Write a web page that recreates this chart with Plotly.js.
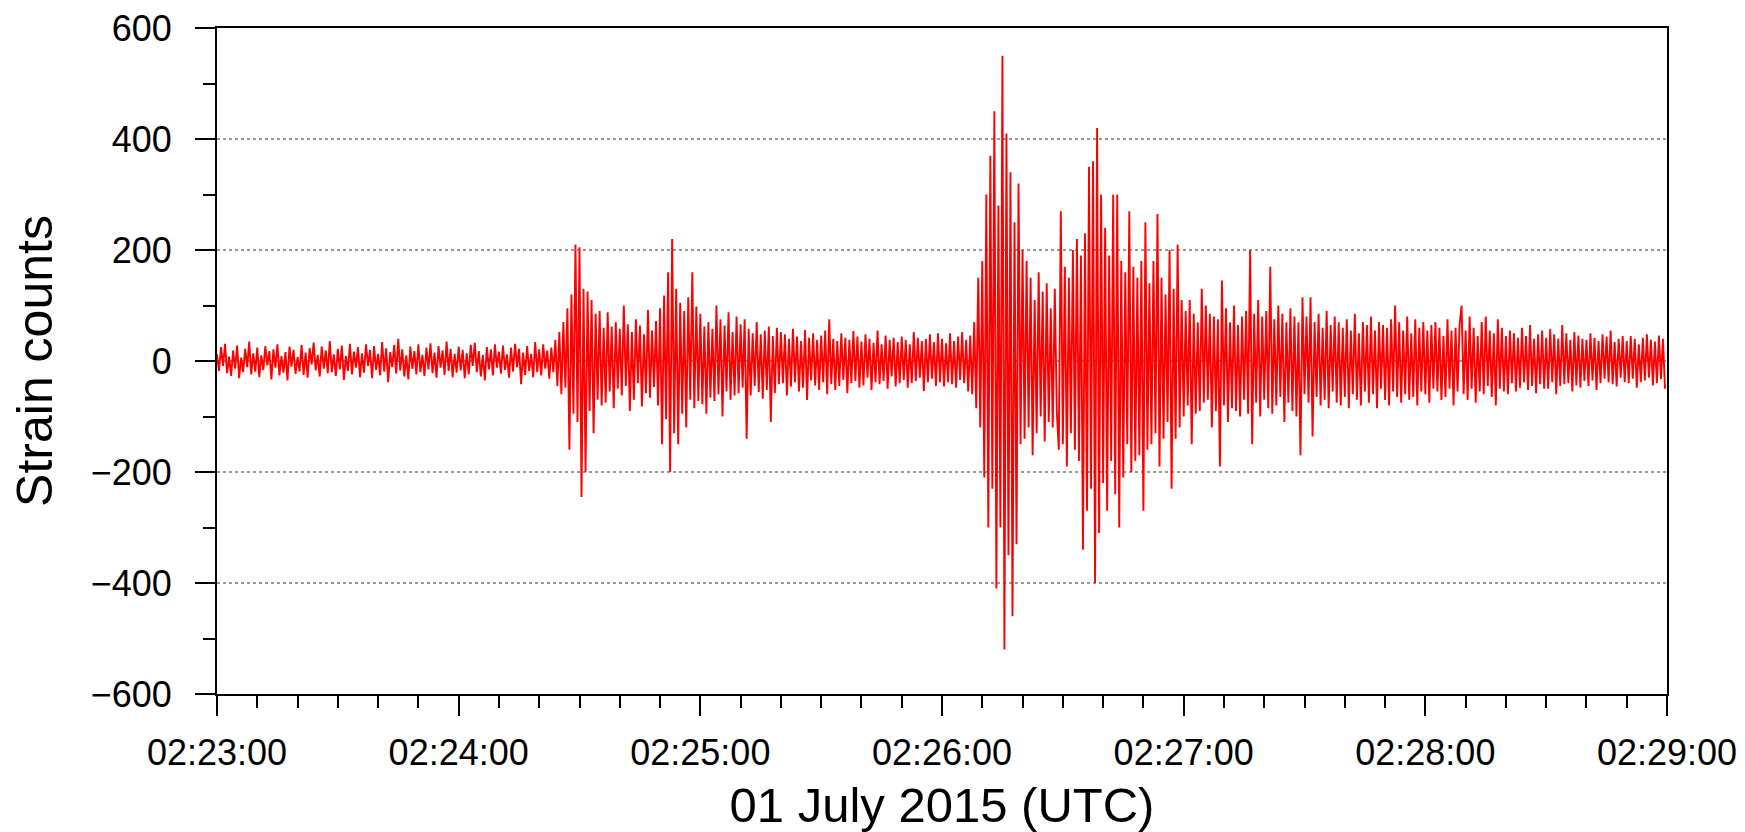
<!DOCTYPE html>
<html>
<head>
<meta charset="utf-8">
<script src="https://cdn.plot.ly/plotly-3.0.1.min.js"></script>
<style>html,body{margin:0;padding:0;background:#fff;}#chart{width:1745px;height:832px;}</style>
</head>
<body>
<div id="chart"></div>
<script>
// Sampling of the hand-read trace
const startTime = "2015-07-01 02:23:00";
const sampleIntervalMs = 500;

// Strain counts, one array per minute (0.5 s samples)
const min2223 = [
  12,-18,25,-9,31,-22,8,-27,19,-14,28,-31,6,-20,22,-11,35,-24,14,-19,
  24,-29,10,-16,27,-8,18,-33,21,-12,30,-26,9,-21,16,-35,26,-10,20,-23,
  7,-19,29,-25,15,-30,23,-6,33,-17,11,-28,26,-14,19,-22,36,-20,12,-27,
  22,-15,28,-34,9,-18,31,-24,17,-12,25,-29,14,-21,30,-9,20,-31,27,-16,
  13,-26,34,-19,23,-38,16,-11,29,-23,40,-17,21,-28,10,-33,26,-14,18,-24,
  30,-20,11,-27,24,-15,32,-22,15,-30,27,-12,19,-25,35,-18,22,-29,13,-21
];
const min2224 = [
  26,-17,20,-31,14,-24,29,-9,33,-20,18,-28,11,-35,25,-15,21,-26,30,-12,
  17,-23,28,-16,12,-30,24,-19,31,-11,22,-42,15,-25,27,-18,13,-29,34,-20,
  21,-26,30,-14,19,-32,24,-20,38,-45,52,-60,70,-48,95,-160,120,-95,210,-110,
  205,-245,130,-200,125,-90,110,-130,85,-70,90,-80,60,-75,88,-55,62,-85,70,-50,
  58,-62,100,-45,66,-90,52,-70,75,-40,64,-82,48,-58,92,-66,55,-47,72,-80,
  95,-150,118,-105,160,-200,220,-130,130,-150,105,-95,90,-120,115,-70,160,-85,98,-72
];
const min2225 = [
  85,-78,62,-95,70,-66,58,-72,100,-60,75,-100,64,-55,88,-70,52,-62,80,-58,
  66,-48,75,-140,58,-62,50,-45,70,-56,48,-68,55,-52,62,-110,45,-58,60,-42,
  52,-40,48,-62,40,-46,58,-38,44,-55,36,-48,56,-70,42,-35,50,-44,38,-52,
  46,-38,55,-60,75,-42,40,-52,36,-45,50,-34,42,-58,38,-40,54,-36,44,-48,
  35,-44,48,-30,40,-52,33,-38,55,-42,30,-36,46,-50,38,-28,42,-46,34,-40,
  44,-34,38,-48,30,-40,52,-36,42,-30,36,-54,40,-38,48,-32,34,-45,50,-38
];
const min2226 = [
  40,-46,32,-38,50,-42,36,-48,44,-34,52,-40,38,-55,46,-60,70,-85,150,-120,
  180,-210,300,-300,370,-230,450,-410,280,-300,550,-520,410,-350,340,-460,250,-330,320,-150,
  200,-140,180,-120,150,-170,110,-130,160,-100,125,-145,140,-110,95,-120,130,-90,-160,270,
  -150,170,-190,150,-130,200,-160,220,-180,190,-340,230,-270,350,-230,360,-400,420,-310,300,
  -220,240,-270,190,-180,300,-240,300,-300,180,-210,160,-150,270,-200,170,-180,150,-170,180,
  -270,250,-160,140,-150,180,-130,265,-190,150,-140,120,-110,200,-230,130,-140,210,-120,110
];
const min2227 = [
  -100,90,-80,110,-150,85,-95,70,-90,130,-75,100,-70,85,-120,80,-90,75,-190,145,
  -80,95,-110,70,-85,100,-90,65,-100,80,-70,90,-95,200,-150,85,-75,110,-100,80,
  -70,90,-85,170,-95,75,-80,100,-65,85,-110,70,-75,95,-90,80,-100,70,-170,115,
  -60,80,-75,115,-136,70,-65,85,-80,60,-70,90,-85,65,-55,80,-75,70,-80,60,
  -65,75,-85,55,-60,85,-70,50,-80,70,-55,65,-75,80,-60,55,-85,70,-50,65,
  -70,60,-80,75,-55,100,-65,70,-75,55,-60,80,-70,50,-65,75,-80,60,-55,70
];
const min2228 = [
  -60,55,-75,65,-50,70,-55,60,-70,45,-65,75,-50,55,-80,60,-55,65,100,-60,
  55,-70,80,-50,60,-75,45,-55,70,-60,80,-45,55,-65,50,-80,75,-50,60,-55,
  45,-60,55,-40,50,-55,42,-48,60,-38,45,-52,65,-45,40,-58,48,-42,55,-50,
  42,-50,58,-38,48,-60,40,-45,65,-42,50,-40,38,-55,52,-44,46,-48,40,-36,
  38,-45,50,-35,42,-52,36,-40,48,-32,44,-38,55,-42,34,-46,40,-30,45,-38,
  36,-40,45,-32,40,-48,30,-38,42,-35,48,-30,38,-44,35,-40,46,-33,40,-50
];

const yTickVals = [-600,-400,-200,0,200,400,600];
const xRange = ["2015-07-01 02:23:00","2015-07-01 02:29:00"];
const xTitle = "01 July 2015 (UTC)";
const yTitle = "Strain counts";

const strain = [].concat(min2223, min2224, min2225, min2226, min2227, min2228);
const t0 = new Date(startTime.replace(" ","T")+"Z").getTime();
const times = strain.map((_, i) => {
  const d = new Date(t0 + i*sampleIntervalMs);
  return d.toISOString().replace("T"," ").replace("Z","");
});

const font = "Liberation Sans, Arial, Helvetica, sans-serif";

Plotly.newPlot("chart", [{
  type: "scatter", mode: "lines",
  x: times, y: strain,
  line: {color: "#ff0000", width: 1.9},
  hoverinfo: "skip"
}], {
  width: 1745, height: 832,
  margin: {l: 217, r: 78, t: 28, b: 138, pad: 0},
  paper_bgcolor: "#ffffff", plot_bgcolor: "#ffffff",
  showlegend: false,
  font: {family: font, color: "#000", size: 36},
  xaxis: {
    type: "date", range: xRange,
    tick0: xRange[0], dtick: 60000, tickformat: "%H:%M:%S",
    ticks: "outside", ticklen: 20, tickwidth: 2, tickcolor: "#000",
    ticklabelstandoff: 6,
    showline: true, linewidth: 2, linecolor: "#000", mirror: true,
    showgrid: false, zeroline: false,
    tickfont: {family: font, size: 36, color: "#000"},
    minor: {dtick: 10000, ticks: "outside", ticklen: 12, tickwidth: 2, tickcolor: "#000", showgrid: false},
    title: {text: xTitle, font: {family: font, size: 49, color: "#000"}, standoff: 32},
    automargin: false, fixedrange: true
  },
  yaxis: {
    range: [-600, 600], tickvals: yTickVals,
    ticks: "outside", ticklen: 20, tickwidth: 2, tickcolor: "#000",
    ticklabelstandoff: 16,
    showline: true, linewidth: 2, linecolor: "#000", mirror: true,
    showgrid: true, gridcolor: "#999999", gridwidth: 2, griddash: "dot",
    zeroline: false,
    tickfont: {family: font, size: 36, color: "#000"},
    minor: {dtick: 100, tick0: 0, ticks: "outside", ticklen: 12, tickwidth: 2, tickcolor: "#000", showgrid: false},
    title: {text: yTitle, font: {family: font, size: 50, color: "#000"}, standoff: 22},
    automargin: false, fixedrange: true
  }
}, {displayModeBar: false, staticPlot: true});
</script>
</body>
</html>
